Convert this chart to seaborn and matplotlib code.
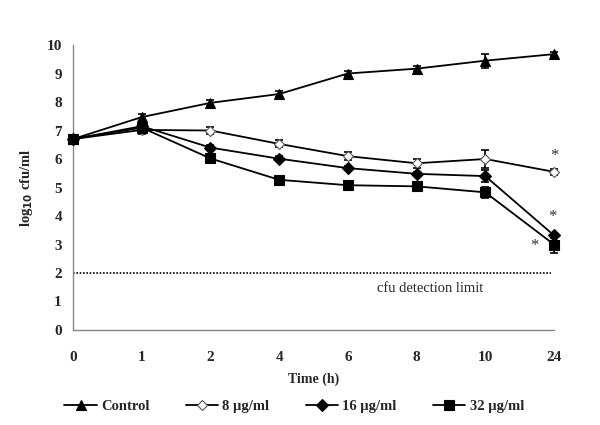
import matplotlib
matplotlib.use("Agg")
import matplotlib.pyplot as plt
import seaborn as sns
import numpy as np
import pandas as pd

# ---- data ----
time_labels = ["0", "1", "2", "4", "6", "8", "10", "24"]
control = [6.7, 7.47, 7.97, 8.28, 9.0, 9.17, 9.45, 9.68]
control_err = [0.05, 0.12, 0.1, 0.1, 0.1, 0.08, 0.25, 0.08]
ug8 = [6.7, 7.02, 7.0, 6.53, 6.1, 5.85, 6.0, 5.55]
ug8_err = [0.05, 0.15, 0.12, 0.12, 0.15, 0.15, 0.33, 0.1]
ug16 = [6.7, 7.15, 6.4, 6.01, 5.68, 5.48, 5.4, 3.32]
ug16_err = [0.05, 0.08, 0.08, 0.08, 0.08, 0.08, 0.2, 0.1]
ug32 = [6.7, 7.1, 6.02, 5.27, 5.08, 5.04, 4.83, 3.0]
ug32_err = [0.05, 0.06, 0.05, 0.05, 0.05, 0.05, 0.2, 0.3]
series_names = ["Control", "8 \u00b5g/ml", "16 \u00b5g/ml", "32 \u00b5g/ml"]
detection_limit = 2.0

sns.set_style("white")
plt.rcParams["font.family"] = ["Liberation Serif", "DejaVu Serif"]

fig = plt.figure(figsize=(6, 4.25), dpi=100)
ax = fig.add_axes([73/600, 1-330/425, (554-73)/600, (330-45)/425])

pos = np.arange(len(time_labels))
values = [control, ug8, ug16, ug32]
errs = [control_err, ug8_err, ug16_err, ug32_err]
markers = ["^", "D", "D", "s"]
mfcs = ["black", "white", "black", "black"]
msizes = [7.5, 5.5, 6.5, 7]

for name, v, e, m, fc, ms in zip(series_names, values, errs, markers, mfcs, msizes):
    df = pd.DataFrame({"pos": pos, "val": v})
    eb = ax.errorbar(pos, v, yerr=e, fmt="none", ecolor="black", elinewidth=1.2,
                     capsize=3, capthick=1.2, zorder=2)
    for child in eb.get_children():
        child.set_clip_on(False)
    sns.lineplot(data=df, x="pos", y="val", ax=ax, color="black", lw=1.3,
                 marker=m, markersize=ms, markerfacecolor=fc,
                 markeredgecolor="black" if fc == "black" else "#555555",
                 markeredgewidth=0.8, zorder=3, label=name)
for ln in ax.lines:
    ln.set_clip_on(False)

# detection limit
ax.plot([0, 6.95], [detection_limit, detection_limit], ls=(0, (1, 1)),
        color="black", lw=1.2)
ax.text(5.2, 1.45, "cfu detection limit", ha="center", va="center", fontsize=10.5)

# asterisks
ax.text(7.0, 6.1, "*", ha="center", va="center", fontsize=12, color="#333333")
ax.text(6.98, 3.95, "*", ha="center", va="center", fontsize=12, color="#333333")
ax.text(6.72, 2.95, "*", ha="center", va="center", fontsize=12, color="#333333")

ax.set_xlim(0, 7)
ax.set_ylim(0, 10)
ax.set_xticks(pos)
ax.set_xticklabels(time_labels)
ax.set_yticks(range(0, 11))
for sp in ["top", "right"]:
    ax.spines[sp].set_visible(False)
for sp in ["left", "bottom"]:
    ax.spines[sp].set_color("#888888")
    ax.spines[sp].set_linewidth(1.0)
ax.tick_params(axis="both", direction="out", length=4, color="#888888",
               labelsize=11, pad=4)
ax.tick_params(axis="x", pad=11)
for t in ax.get_xticklabels() + ax.get_yticklabels():
    t.set_fontweight("bold")

ax.set_xlabel("Time (h)", fontsize=10, fontweight="bold", labelpad=6)
ax.set_ylabel(r"log$_{\mathbf{10}}$ cfu/ml", fontsize=10.5, fontweight="bold", labelpad=8)

leg = ax.legend(loc="upper center", bbox_to_anchor=(0.46, -0.2), ncol=4,
                frameon=False, fontsize=10.5, handlelength=2.2,
                columnspacing=2.5, handletextpad=0.3)
for t in leg.get_texts():
    t.set_fontweight("bold")

fig.savefig("out.png", dpi=100)
